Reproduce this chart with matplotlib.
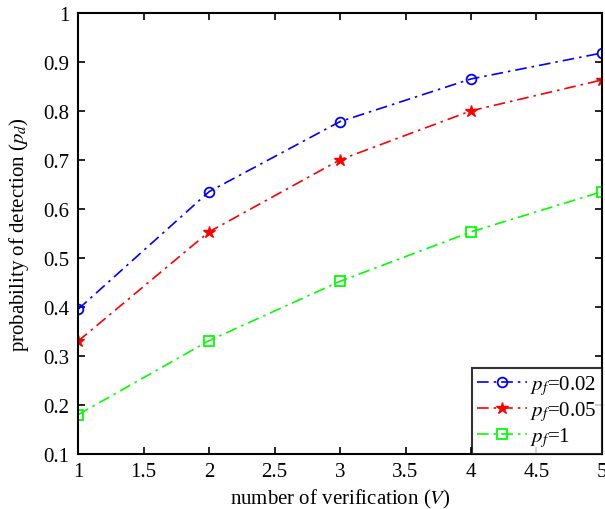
import matplotlib
matplotlib.use('Agg')
import matplotlib.pyplot as plt

plt.rcParams['font.family'] = ['Liberation Serif', 'DejaVu Serif']
plt.rcParams['mathtext.fontset'] = 'stix'

V = [1, 2, 3, 4, 5]
pd_002 = [0.395, 0.635, 0.778, 0.865, 0.918]
pd_005 = [0.330, 0.553, 0.700, 0.800, 0.863]
pd_1 = [0.180, 0.331, 0.452, 0.553, 0.635]

fig = plt.figure(figsize=(6.05, 5.1), dpi=100)
ax = fig.add_axes([0.129, 0.108, 0.866, 0.865])

dash = (0, (7, 3, 1.5, 3))
ax.plot(V, pd_002, color='#0000ff', linestyle=dash, marker='o', markersize=7,
        markerfacecolor='none', markeredgewidth=1.3, linewidth=1.2, label=r'$p_f$=0.02')
ax.plot(V, pd_005, color='#ff0000', linestyle=dash, marker='*', markersize=9,
        linewidth=1.2, label=r'$p_f$=0.05')
ax.plot(V, pd_1, color='#00ff00', linestyle=dash, marker='s', markersize=7,
        markerfacecolor='none', markeredgewidth=1.3, linewidth=1.2, label=r'$p_f$=1')

ax.set_xlim(1, 5)
ax.set_ylim(0.1, 1)
ax.set_xticks([1, 1.5, 2, 2.5, 3, 3.5, 4, 4.5, 5])
ax.set_xticklabels(['1', '1.5', '2', '2.5', '3', '3.5', '4', '4.5', '5'])
ax.set_yticks([0.1, 0.2, 0.3, 0.4, 0.5, 0.6, 0.7, 0.8, 0.9, 1])
ax.set_yticklabels(['0.1', '0.2', '0.3', '0.4', '0.5', '0.6', '0.7', '0.8', '0.9', '1'])
ax.tick_params(direction='in', labelsize=15, width=1.2, length=5, top=True, right=True, pad=6)
for s in ax.spines.values():
    s.set_linewidth(1.5)

ax.set_xlabel('number of verification ($V$)', fontsize=15, labelpad=4)
ax.set_ylabel('probability of detection ($p_d$)', fontsize=15, labelpad=9)

leg = ax.legend(loc='lower right', fontsize=15, fancybox=False, edgecolor='black',
                borderpad=0.25, labelspacing=0.1, handlelength=2.4, handletextpad=0.15,
                borderaxespad=0)
leg.get_frame().set_linewidth(1.5)

fig.savefig('out.png', dpi=100)
